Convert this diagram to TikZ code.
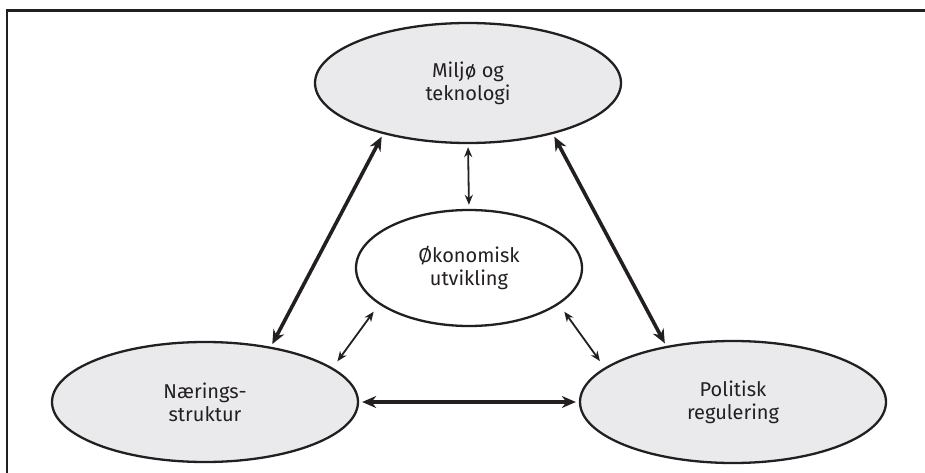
\documentclass[tikz,border=0pt]{standalone}
\usepackage{fontspec}
\setmainfont{Fira Sans}[Ligatures=NoCommon]
\usetikzlibrary{shapes.geometric,arrows.meta}
\definecolor{faktorgra}{HTML}{EAEAEC}
\definecolor{trykksvart}{HTML}{231F20}
\newcommand{\pilspiss}{Stealth[length=14pt,width=12pt]}
\newcommand{\smalspiss}{Stealth[length=10pt,width=8pt]}
\tikzset{
  faktor/.style={ellipse,draw=trykksvart,line width=2.3pt,fill=faktorgra,inner sep=0pt,
    minimum width=306pt,minimum height=120pt,align=center,text=trykksvart,
    font=\fontsize{20}{23}\selectfont},
  midtfaktor/.style={faktor,fill=white,minimum width=226pt,minimum height=116pt},
  tykkpil/.style={draw=trykksvart,line width=3.6pt,{\pilspiss}-{\pilspiss},shorten <=3pt,shorten >=3pt},
  tynnpil/.style={draw=trykksvart,line width=1.8pt,{\smalspiss}-{\smalspiss}},
  ramme/.style={draw=trykksvart,line width=2.5pt}
}
\begin{document}
\begin{tikzpicture}[x=1pt,y=-1pt]

    \useasboundingbox (0,0) rectangle (925,473);
    \draw[ramme] (7,473) -- (7,10.5) -- (925,10.5);

    \node[faktor] (miljo) at (468,83) {Miljø og\\teknologi};
    \node[midtfaktor] (okonomi) at (469,268) {Økonomisk\\utvikling};
    \node[faktor] (naering) at (205,402) {Nærings-\\struktur};
    \node[faktor,minimum height=122pt] (politikk) at (733,402) {Politisk\\regulering};

    \draw[tykkpil] (naering.40) -- (miljo.211);
    \draw[tykkpil] (politikk.140) -- (miljo.329);
    \draw[tykkpil] (naering.east) -- (politikk.west);

    \draw[tynnpil,shorten <=3pt,shorten >=4pt] (miljo.south) -- (okonomi.north);
    \draw[tynnpil,shorten <=9pt,shorten >=8pt] (okonomi.202) -- (naering.15);
    \draw[tynnpil,shorten <=9pt,shorten >=8pt] (okonomi.338) -- (politikk.165);
    \end{tikzpicture}
\end{document}
